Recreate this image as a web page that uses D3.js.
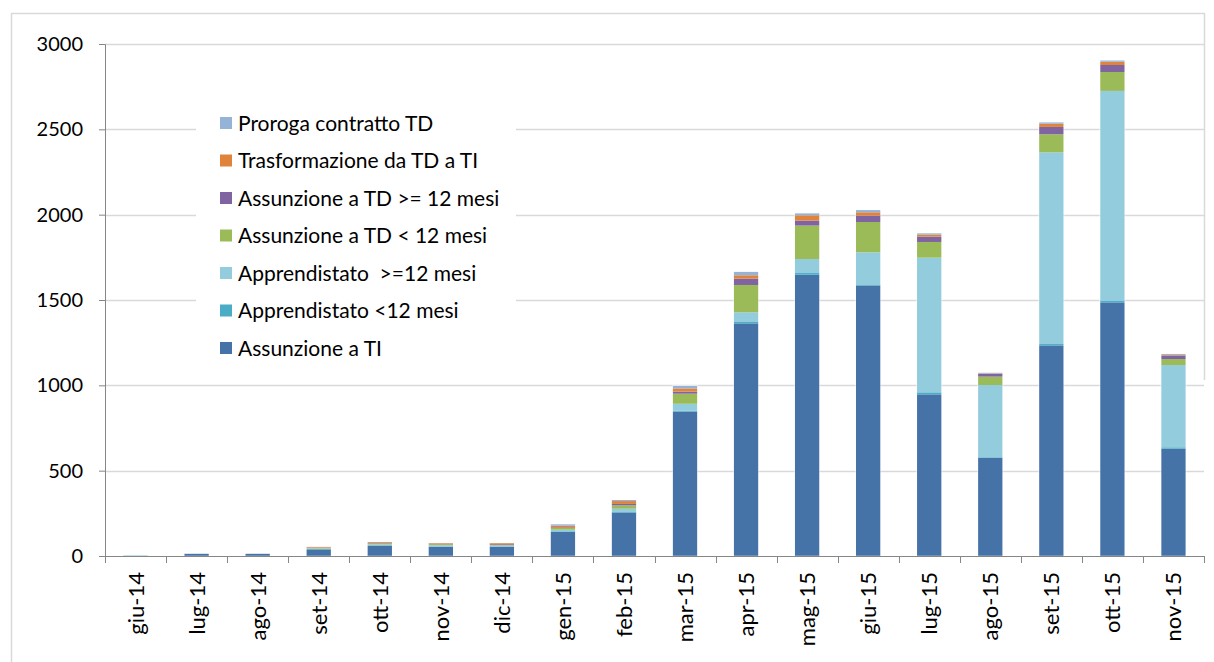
<!DOCTYPE html>
<meta charset="utf-8">
<script src="https://d3js.org/d3.v7.min.js"></script>
<style>
  body { margin: 0; background: #fff; }
  svg text { font-family: Lato, "Liberation Sans", sans-serif; fill: #000; }
</style>
<body>
<div id="my_dataviz"></div>
<script>

// months on the x axis
var months = ["giu-14", "lug-14", "ago-14", "set-14", "ott-14", "nov-14", "dic-14", "gen-15", "feb-15",
              "mar-15", "apr-15", "mag-15", "giu-15", "lug-15", "ago-15", "set-15", "ott-15", "nov-15"];

// series, bottom to top of the stack
var assunzioneTI     = [1, 13, 13, 39, 61, 55, 55, 142, 255, 846, 1363, 1648, 1585, 947, 576, 1234, 1486, 629];
var apprMeno12       = [0, 0, 0, 1, 2, 1, 1, 3, 3, 5, 8, 10, 3, 12, 3, 8, 8, 8];
var apprPiu12        = [4, 1, 1, 4, 5, 6, 5, 9, 19, 41, 57, 82, 191, 789, 423, 1123, 1231, 482];
var tdMeno12         = [0, 0, 0, 3, 6, 7, 3, 10, 20, 59, 160, 196, 178, 92, 49, 106, 111, 35];
var tdPiu12          = [0, 0, 0, 1, 2, 2, 5, 4, 8, 12, 37, 29, 37, 31, 17, 43, 41, 20];
var trasformazione   = [0, 0, 0, 4, 5, 4, 6, 10, 17, 19, 20, 31, 20, 12, 2, 19, 19, 4];
var proroga          = [0, 0, 0, 2, 1, 1, 1, 8, 6, 14, 20, 12, 13, 8, 4, 8, 8, 6];

var seriesNames = ["Assunzione a TI", "Apprendistato <12 mesi", "Apprendistato  >=12 mesi",
                   "Assunzione a TD < 12 mesi", "Assunzione a TD >= 12 mesi",
                   "Trasformazione da TD a TI", "Proroga contratto TD"];
var seriesValues = [assunzioneTI, apprMeno12, apprPiu12, tdMeno12, tdPiu12, trasformazione, proroga];
var colors = ["#4572a7", "#4bacc6", "#93cddd", "#9bbb59", "#8064a2", "#e0843c", "#95b3d7"];

var yTicks = [0, 500, 1000, 1500, 2000, 2500, 3000];

var W = 1214, H = 662;
var margin = {top: 44, right: 10, bottom: 106, left: 105};
var width = 1204 - margin.left,
    height = 556 - margin.top;

var svg = d3.select("#my_dataviz").append("svg")
    .attr("width", W).attr("height", H);

// outer frame (left, top, right)
svg.append("path")
  .attr("d", "M11.5," + H + "V13.5H1204.5V380")
  .attr("fill", "none").attr("stroke", "#d9d9d9").attr("stroke-width", 1.5);

var g = svg.append("g")
    .attr("transform", "translate(" + margin.left + "," + margin.top + ")");

// build rows for the stack
var table = months.map(function(m, i) {
  var row = {month: m};
  seriesNames.forEach(function(s, j) { row[s] = seriesValues[j][i]; });
  return row;
});
var stacked = d3.stack().keys(seriesNames)(table);

var x = d3.scaleBand().domain(months).range([0, width]).paddingInner(0.6).paddingOuter(0.3);
var y = d3.scaleLinear().domain([0, 3000]).range([height, 0]);

// gridlines
g.selectAll(".grid")
  .data(yTicks.slice(1))
  .enter().append("line")
    .attr("x1", 0).attr("x2", width)
    .attr("y1", function(d) { return Math.round(y(d)) + 0.5; })
    .attr("y2", function(d) { return Math.round(y(d)) + 0.5; })
    .attr("stroke", "#d9d9d9").attr("stroke-width", 1.3);

// bars
g.selectAll(".layer")
  .data(stacked)
  .enter().append("g")
    .attr("fill", function(d, i) { return colors[i]; })
  .selectAll("rect")
  .data(function(d) { return d; })
  .enter().append("rect")
    .attr("x", function(d) { return x(d.data.month); })
    .attr("width", x.bandwidth())
    .attr("y", function(d) { return y(d[1]); })
    .attr("height", function(d) { return Math.max(y(d[0]) - y(d[1]), 0); });

// light edge round every bar, like the spreadsheet
g.selectAll(".edge")
  .data(table)
  .enter().append("rect")
    .attr("x", function(d) { return x(d.month) - 0.5; })
    .attr("width", x.bandwidth() + 1)
    .attr("y", function(d) { return y(d3.sum(seriesNames, function(s) { return d[s]; })) - 0.5; })
    .attr("height", function(d) { return height - y(d3.sum(seriesNames, function(s) { return d[s]; })) + 0.5; })
    .attr("fill", "none").attr("stroke", "#ffffff").attr("stroke-opacity", 0.45).attr("stroke-width", 1);

// y axis
var yAxis = g.append("g")
  .call(d3.axisLeft(y).tickValues(yTicks).tickSize(6).tickPadding(16).tickFormat(d3.format("d")));
yAxis.select(".domain").attr("stroke", "#868686");
yAxis.selectAll(".tick line").attr("stroke", "#868686");
yAxis.selectAll("text").style("font-size", "20px");

// x axis, ticks between the categories
var xAxis = g.append("g")
  .attr("transform", "translate(0," + height + ")");
xAxis.append("line")
  .attr("x1", 0).attr("x2", width).attr("y1", 0.5).attr("y2", 0.5)
  .attr("stroke", "#868686");
xAxis.selectAll(".sep")
  .data(d3.range(months.length + 1))
  .enter().append("line")
    .attr("x1", function(i) { return Math.round(i * width / months.length) + 0.5; })
    .attr("x2", function(i) { return Math.round(i * width / months.length) + 0.5; })
    .attr("y1", 0).attr("y2", 7)
    .attr("stroke", "#868686");
xAxis.selectAll(".lab")
  .data(months)
  .enter().append("text")
    .attr("transform", function(d) {
      return "translate(" + (x(d) + x.bandwidth() / 2 + 8) + ",16)rotate(-90)";
    })
    .style("text-anchor", "end")
    .style("font-size", "22px")
    .text(function(d) { return d; });

// legend on a white box
var legend = svg.append("g");
legend.append("rect")
  .attr("x", 196).attr("y", 104).attr("width", 320).attr("height", 264)
  .attr("fill", "#fff");
var legendOrder = seriesNames.slice().reverse();
var legendColors = colors.slice().reverse();
legendOrder.forEach(function(name, i) {
  var cy = 123 + i * 37.5;
  legend.append("rect")
    .attr("x", 220).attr("y", cy - 6).attr("width", 12).attr("height", 12)
    .attr("fill", legendColors[i]);
  legend.append("text")
    .attr("x", 238).attr("y", cy)
    .attr("dy", "0.36em")
    .style("font-size", "21px")
    .style("white-space", "pre")
    .attr("xml:space", "preserve")
    .text(name);
});

</script>
</body>
